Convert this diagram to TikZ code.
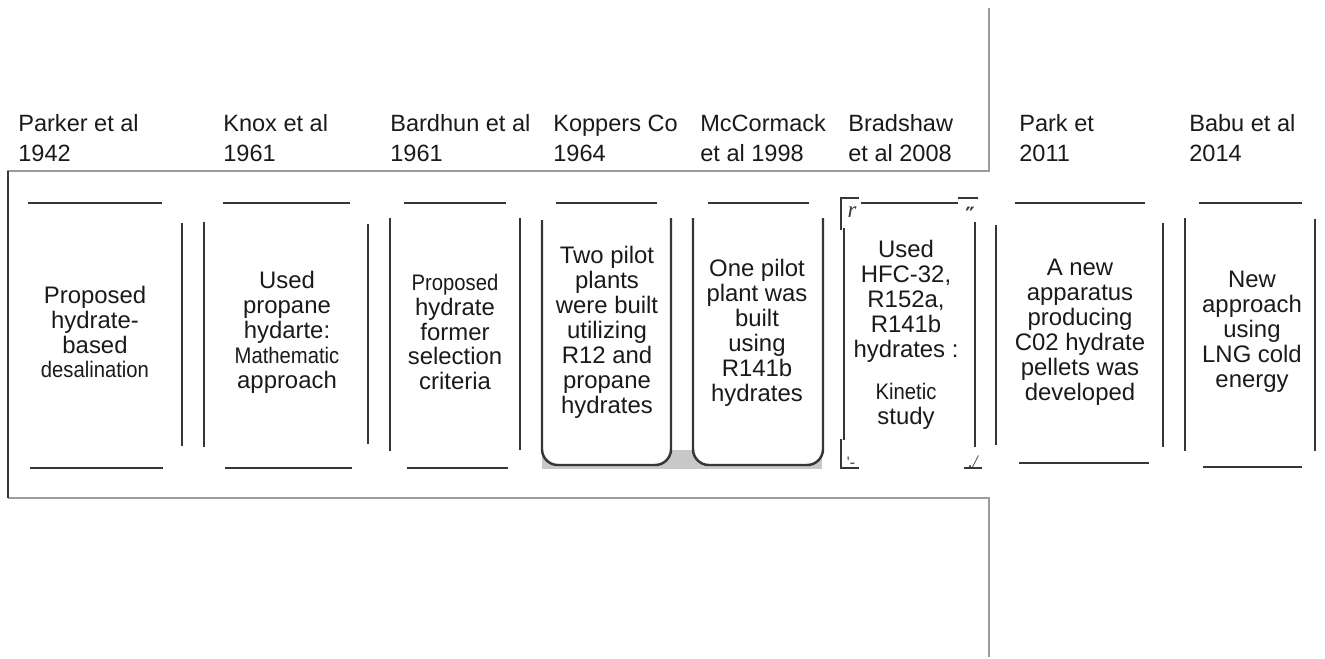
\documentclass[tikz,border=0pt]{standalone}
\usepackage{fontspec}
\setmainfont{Liberation Sans}
\newfontfamily\narrowfamily[FakeStretch=0.9]{Liberation Sans}
\newfontfamily\markfamily{Liberation Serif}
\newfontfamily\primefamily{DejaVu Sans}
\newcommand{\nrw}{\narrowfamily\fontsize{12.8}{14.2}\selectfont}
\usepackage{tikz}

\definecolor{barcol}{HTML}{363636}
\definecolor{framecol}{HTML}{9C9C9C}
\definecolor{shadecol}{HTML}{C8C8C8}
\definecolor{txtcol}{HTML}{1A1A1A}

\begin{document}
\begin{tikzpicture}[x=0.02cm,y=-0.02cm,
  bar/.style={draw=barcol, line width=1.4pt},
  thinbar/.style={draw=barcol, line width=1.1pt},
  frame/.style={draw=framecol, line width=1.1pt},
  yearlab/.style={anchor=west, align=left, text=txtcol, inner sep=0pt,
    font={\fontsize{13.4}{17}\selectfont}},
  boxtxt/.style={align=center, text=txtcol, inner sep=0pt,
    font={\fontsize{13.6}{14.2}\selectfont}},
  scanmark/.style={text=barcol, inner sep=0pt, font={\markfamily\fontsize{9}{9}\selectfont}}]
\useasboundingbox (0,0) rectangle (1325,659);

% frame
\draw[frame] (989,8) -- (989,171) -- (7,171);
\draw[frame] (8,498) -- (989,498) -- (989,657);
\draw[bar] (8,171) -- (8,498);

% authors and years
\foreach \x/\nm/\yr/\n in {
  18/Parker et al/1942/parker,
  223/Knox et al/1961/knox,
  390/Bardhun et al/1961/bardhun,
  553/Koppers Co/1964/koppers,
  700/McCormack/et al 1998/mccormack,
  848/Bradshaw/et al 2008/bradshaw,
  1019/Park et/2011/park,
  1189/Babu et al/2014/babu
}{
  \node[yearlab] (lab-\n) at (\x,138) {\nm\\\yr};
}

% top and bottom bars
\foreach \xa/\xb in {28/162, 223/350, 404/506, 556/657, 708/809, 1015/1145, 1199/1302}
  \draw[bar] (\xa,203) -- (\xb,203);
\foreach \xa/\xb/\y in {30/163/468, 225/352/468, 407/508/468, 1019/1149/463, 1203/1302/467}
  \draw[bar] (\xa,\y) -- (\xb,\y);

% side bars
\foreach \x/\ya/\yb in {182/223/446, 204/222/447, 368/224/444, 390/218/451, 520/218/450,
  844/228/440, 975/222/447, 996/225/445, 1163/223/447, 1185/218/451, 1315/219/451}
  \draw[bar] (\x,\ya) -- (\x,\yb);

% rounded boxes with shadow
\fill[shadecol] (542,450) rectangle (822,469);
\filldraw[bar, fill=white, rounded corners=9pt] (542,220) -- (542,465) -- (671,465) -- (671,218);
\filldraw[bar, fill=white, rounded corners=9pt] (693,218) -- (693,465) -- (823,465) -- (823,218);

% bracket box
\draw[thinbar] (841,230) -- (841,198) -- (859,198);
\draw[bar] (861,203) -- (958,203);
\draw[thinbar] (958,198) -- (978,198);
\draw[thinbar] (841,439) -- (841,468) -- (859,468);
\draw[thinbar] (964,468) -- (982,468);
\node[scanmark, font={\markfamily\itshape\fontsize{13}{13}\selectfont}] (mark-r) at (852,212) {r};
\node[scanmark, font={\primefamily\bfseries\fontsize{12}{12}\selectfont}] (mark-q) at (970,215) {″};
\node[scanmark] (mark-bl) at (851,462) {'-};
\node[scanmark, font={\markfamily\itshape\fontsize{10}{10}\selectfont}] (mark-br) at (973,462) {./};

% texts
\node[boxtxt] (txt-parker) at (95,332) {Proposed\\hydrate-\\based\\{\nrw desalination}};
\node[boxtxt] (txt-knox) at (287,332) {Used\\propane\\hydarte:\\{\nrw Mathematic}\\approach};
\node[boxtxt] (txt-bardhun) at (455,332) {{\nrw Proposed}\\hydrate\\former\\selection\\criteria};
\node[boxtxt] (txt-koppers) at (607,332) {Two pilot\\plants\\were built\\utilizing\\R12 and\\propane\\hydrates};
\node[boxtxt] (txt-mccormack) at (757,333) {One pilot\\plant was\\built\\using\\R141b\\hydrates};
\node[boxtxt] (txt-bradshaw) at (906,335) {Used\\HFC-32,\\R152a,\\R141b\\hydrates :\\[9.6pt]{\nrw Kinetic}\\study};
\node[boxtxt] (txt-park) at (1080,332) {A new\\apparatus\\producing\\C02 hydrate\\pellets was\\developed};
\node[boxtxt] (txt-babu) at (1252,332) {New\\approach\\using\\LNG cold\\energy};
\end{tikzpicture}
\end{document}
